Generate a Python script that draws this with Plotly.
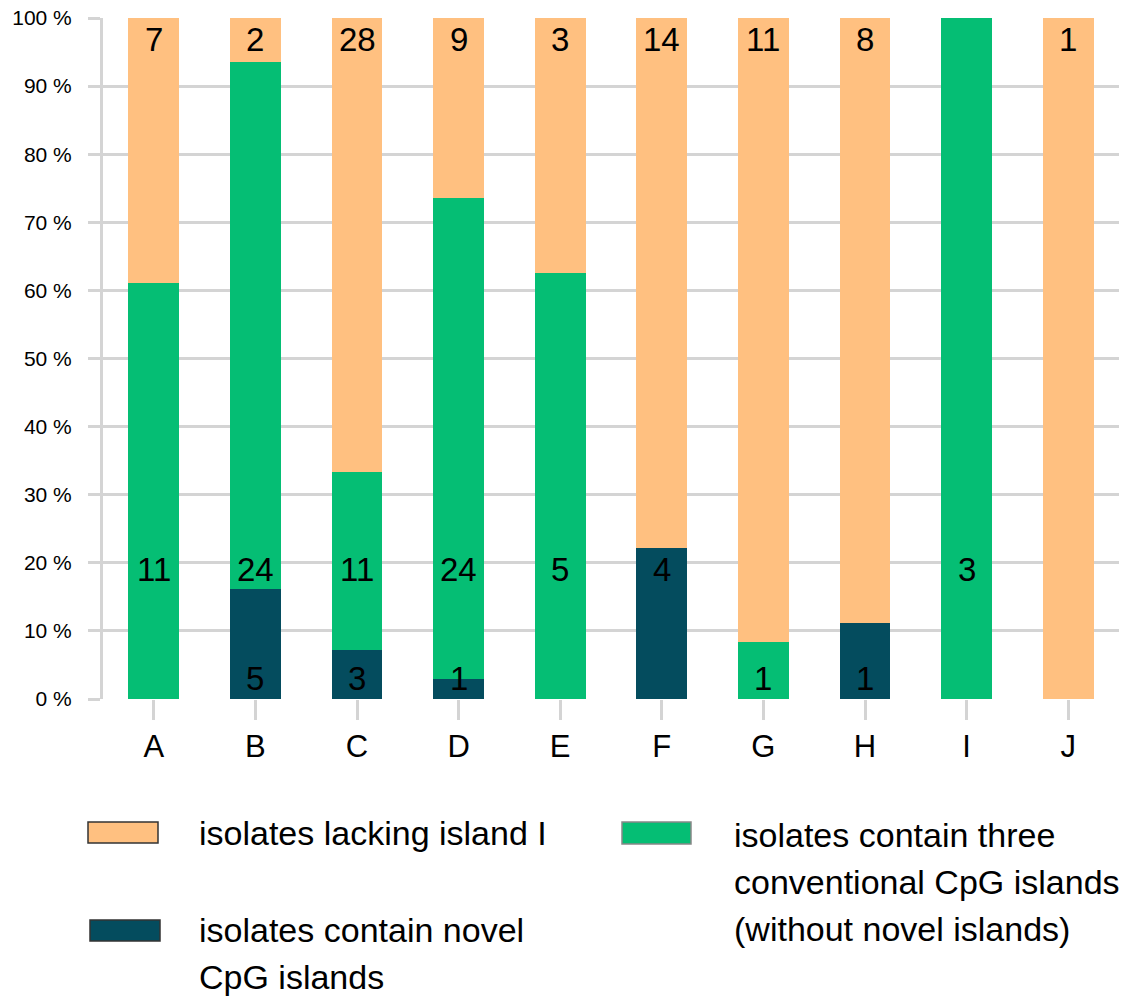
import plotly.graph_objects as go

# Isolate groups and counts per category
groups = ["A", "B", "C", "D", "E", "F", "G", "H", "I", "J"]
novel_counts = [0, 5, 3, 1, 0, 4, 0, 1, 0, 0]
conventional_counts = [11, 24, 11, 24, 5, 0, 1, 0, 3, 0]
lacking_counts = [7, 2, 28, 9, 3, 14, 11, 8, 0, 1]

series_names = [
    "isolates contain novel CpG islands",
    "isolates contain three conventional CpG islands (without novel islands)",
    "isolates lacking island I",
]
tick_values = [0, 10, 20, 30, 40, 50, 60, 70, 80, 90, 100]
tick_labels = [f"{v} %" for v in tick_values]

COL_NOVEL = "#044C5E"
COL_CONV = "#05BE74"
COL_LACK = "#FFC080"
GRID = "#D4D4D4"

totals = [n + c + l for n, c, l in zip(novel_counts, conventional_counts, lacking_counts)]


def pct(vals):
    return [v / t * 100 for v, t in zip(vals, totals)]


novel_pct = pct(novel_counts)
conv_pct = pct(conventional_counts)
lack_pct = pct(lacking_counts)

fig = go.Figure()
for name, vals, col in [
    (series_names[0], novel_pct, COL_NOVEL),
    (series_names[1], conv_pct, COL_CONV),
    (series_names[2], lack_pct, COL_LACK),
]:
    fig.add_trace(go.Bar(x=groups, y=vals, name=name, marker=dict(color=col, line=dict(width=0)),
                         showlegend=False))

# Count labels on the segments
annotations = []
label_font = dict(family="Liberation Sans, Arial, sans-serif", size=33, color="black")
for i, g in enumerate(groups):
    base = 0.0
    for counts, vals in [(novel_counts, novel_pct), (conventional_counts, conv_pct)]:
        top = base + vals[i]
        if counts[i] > 0:
            y = 19 if (base <= 16.5 and top >= 21.5) else base + 3
            annotations.append(dict(x=g, y=y, text=str(counts[i]), showarrow=False,
                                    font=label_font, xref="x", yref="y"))
        base = top
    if lacking_counts[i] > 0:
        annotations.append(dict(x=g, y=96.8, text=str(lacking_counts[i]), showarrow=False,
                                font=label_font, xref="x", yref="y"))

# Legend drawn below the plot
W, H = 1147, 998
PX0, PX1, PY0, PY1 = 103, 1119, 18, 699
legend_font = dict(family="Liberation Sans, Arial, sans-serif", size=34, color="black")
shapes = []
legend_items = [
    (88, 822, 158, 843, COL_LACK, "#333333", 197, ["isolates lacking island I"], 833),
    (90, 920, 160, 941, COL_NOVEL, "#333333", 197, ["isolates contain novel", "CpG islands"], 930),
    (622, 822, 691, 844, COL_CONV, "#888888", 732,
     ["isolates contain three", "conventional CpG islands", "(without novel islands)"], 835),
]
for x0, y0, x1, y1, fill, edge, tx, lines, ty in legend_items:
    shapes.append(dict(type="rect", xref="paper", yref="paper",
                       x0=(x0 - PX0) / (PX1 - PX0), x1=(x1 - PX0) / (PX1 - PX0),
                       y0=(PY1 - y1) / (PY1 - PY0), y1=(PY1 - y0) / (PY1 - PY0),
                       fillcolor=fill, line=dict(color=edge, width=1.5)))
    for k, line in enumerate(lines):
        yy = ty + k * 47
        annotations.append(dict(xref="paper", yref="paper",
                                x=(tx - PX0) / (PX1 - PX0), y=(PY1 - yy) / (PY1 - PY0),
                                xanchor="left", yanchor="middle", text=line, showarrow=False,
                                font=legend_font))

fig.update_layout(
    barmode="stack",
    bargap=0.5,
    width=W,
    height=H,
    margin=dict(l=PX0, r=W - PX1, t=PY0, b=H - PY1),
    paper_bgcolor="white",
    plot_bgcolor="white",
    font=dict(family="Liberation Sans, Arial, sans-serif", color="black"),
    annotations=annotations,
    shapes=shapes,
    xaxis=dict(
        showgrid=False,
        ticks="outside",
        ticklen=20,
        tickwidth=3,
        tickcolor=GRID,
        tickfont=dict(size=31),
        showline=False,
        zeroline=False,
        automargin=False,
    ),
    yaxis=dict(
        range=[0, 100],
        tickvals=tick_values,
        ticktext=tick_labels,
        tickfont=dict(size=21),
        showgrid=True,
        gridcolor=GRID,
        gridwidth=3,
        showline=True,
        linecolor=GRID,
        linewidth=3,
        ticks="outside",
        ticklen=12,
        tickwidth=3,
        tickcolor=GRID,
        ticklabelstandoff=12,
        zeroline=False,
        automargin=False,
    ),
)

fig.write_html("out.html")
